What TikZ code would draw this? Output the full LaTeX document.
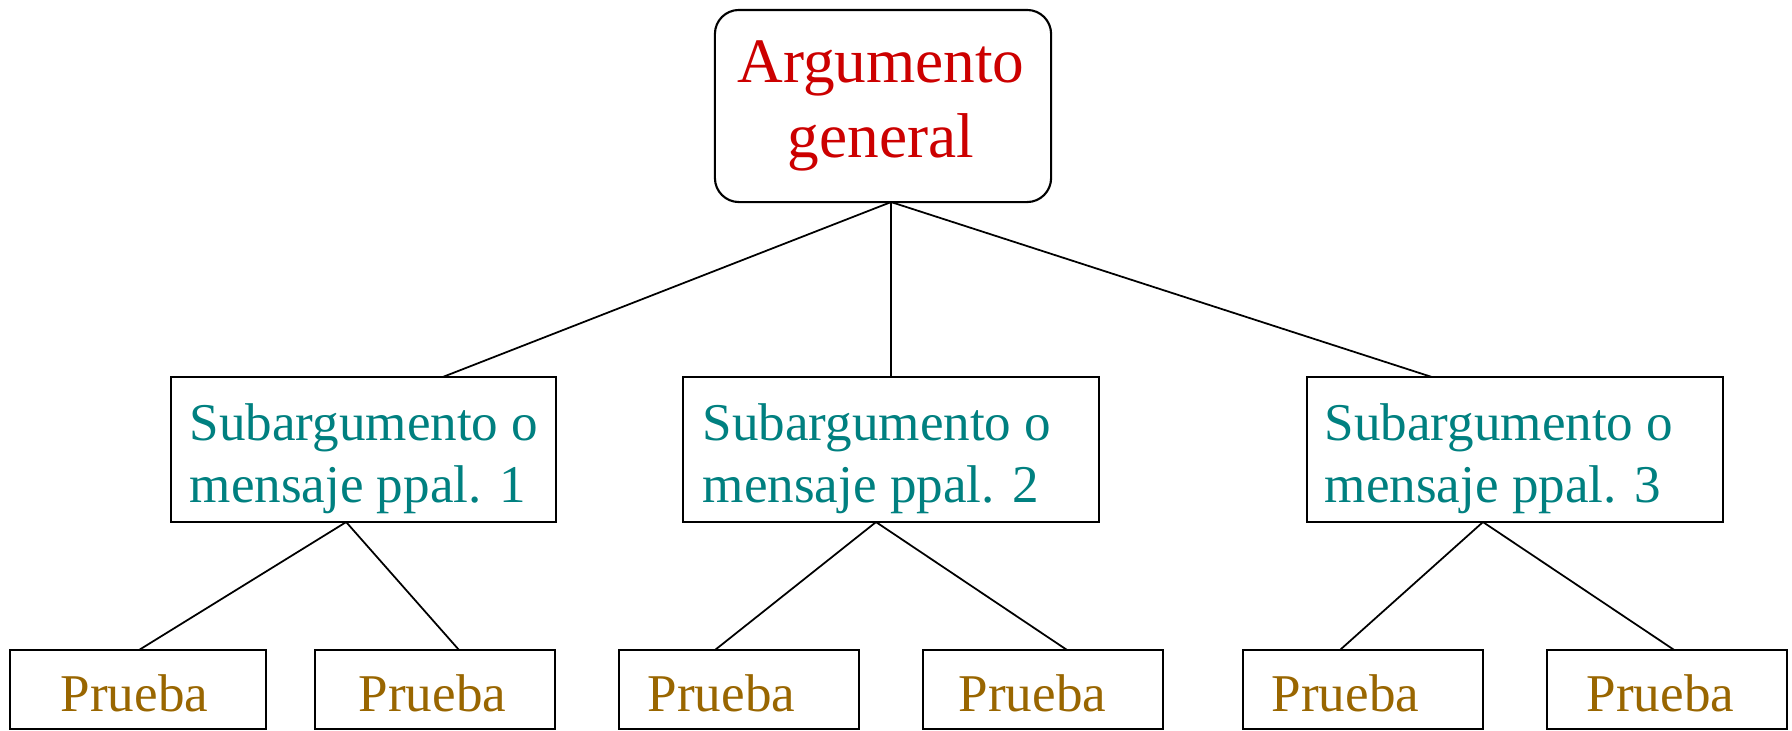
\documentclass[tikz,border=0pt]{standalone}
\usepackage{fontspec}
\setmainfont{Liberation Serif}
\usetikzlibrary{calc}
\definecolor{argred}{RGB}{204,0,0}
\definecolor{subteal}{RGB}{0,128,128}
\definecolor{pruebabrown}{RGB}{153,102,0}
\begin{document}
\begin{tikzpicture}[x=0.01cm, y=-0.01cm,
  box/.style={draw=black, line width=0.6pt, inner sep=0pt, outer sep=0pt},
  topbox/.style={box, rounded corners=0.24cm, minimum width=3.36cm, minimum height=1.92cm},
  subbox/.style={box, minimum width=4.16cm, minimum height=1.45cm},
  probox/.style={box, minimum width=2.40cm, minimum height=0.79cm},
  toptext/.style={inner sep=0pt, anchor=base, text=argred, font=\fontsize{18pt}{21.3pt}\selectfont},
  subtext/.style={inner sep=0pt, anchor=base west, text=subteal, font=\fontsize{15.1pt}{17.6pt}\selectfont},
  protext/.style={inner sep=0pt, anchor=base west, text=pruebabrown, font=\fontsize{15.1pt}{17.6pt}\selectfont},
  link/.style={draw=black, line width=0.5pt}]
\useasboundingbox (0,0) rectangle (1792,730);
\fill[white] (0,0) rectangle (1792,730);

% boxes
\node[topbox] (top) at (883,106) {};
\node[subbox, minimum width=3.85cm] (s1) at (363.5,449.5) {};
\node[subbox] (s2) at (891,449.5) {};
\node[subbox] (s3) at (1515,449.5) {};
\node[probox, minimum width=2.56cm] (b1) at (138,689.5) {};
\node[probox] (b2) at (435,689.5) {};
\node[probox] (b3) at (739,689.5) {};
\node[probox] (b4) at (1043,689.5) {};
\node[probox] (b5) at (1363,689.5) {};
\node[probox] (b6) at (1667,689.5) {};

% texts
\node[toptext] (ta) at (881,82) {Argumento};
\node[toptext] (tb) at (881,157) {general};
\node[subtext] (s1a) at (189,440) {Subargumento o};
\node[subtext] (s1b) at (189,502) {mensaje ppal. 1};
\node[subtext] (s2a) at (702,440) {Subargumento o};
\node[subtext] (s2b) at (702,502) {mensaje ppal. 2};
\node[subtext] (s3a) at (1324,440) {Subargumento o};
\node[subtext] (s3b) at (1324,502) {mensaje ppal. 3};
\node[protext] (p1) at (60,711) {Prueba};
\node[protext] (p2) at (358,711) {Prueba};
\node[protext] (p3) at (647,711) {Prueba};
\node[protext] (p4) at (958,711) {Prueba};
\node[protext] (p5) at (1271,711) {Prueba};
\node[protext] (p6) at (1586,711) {Prueba};

% connectors
\coordinate (topc) at ($(top.south west)!0.524!(top.south east)$);
\draw[link] (topc) -- ($(s1.north west)!0.706!(s1.north east)$);
\draw[link] (topc) -- ($(s2.north west)!0.5!(s2.north east)$);
\draw[link] (topc) -- ($(s3.north west)!0.30!(s3.north east)$);

\coordinate (s1c) at ($(s1.south west)!0.455!(s1.south east)$);
\coordinate (s2c) at ($(s2.south west)!0.464!(s2.south east)$);
\coordinate (s3c) at ($(s3.south west)!0.423!(s3.south east)$);
\draw[link] (s1c) -- ($(b1.north west)!0.504!(b1.north east)$);
\draw[link] (s1c) -- ($(b2.north west)!0.6!(b2.north east)$);
\draw[link] (s2c) -- ($(b3.north west)!0.40!(b3.north east)$);
\draw[link] (s2c) -- ($(b4.north west)!0.6!(b4.north east)$);
\draw[link] (s3c) -- ($(b5.north west)!0.404!(b5.north east)$);
\draw[link] (s3c) -- ($(b6.north west)!0.53!(b6.north east)$);
\end{tikzpicture}
\end{document}
